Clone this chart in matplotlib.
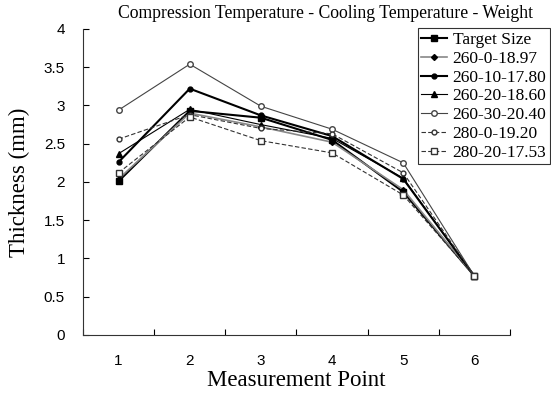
import matplotlib
matplotlib.use("Agg")
import matplotlib.pyplot as plt
import numpy as np

points = [1, 2, 3, 4, 5, 6]
series_names = ["Target Size", "260-0-18.97", "260-10-17.80", "260-20-18.60",
                "260-30-20.40", "280-0-19.20", "280-20-17.53"]
target_size   = [2.01, 2.93, 2.84, 2.55, 1.87, 0.77]
s_260_0_1897  = [2.04, 2.90, 2.72, 2.52, 1.90, 0.77]
s_260_10_1780 = [2.26, 3.22, 2.87, 2.60, 2.04, 0.77]
s_260_20_1860 = [2.37, 2.95, 2.75, 2.57, 2.05, 0.77]
s_260_30_2040 = [2.94, 3.54, 2.99, 2.69, 2.25, 0.77]
s_280_0_1920  = [2.56, 2.88, 2.70, 2.63, 2.12, 0.77]
s_280_20_1753 = [2.12, 2.85, 2.54, 2.38, 1.83, 0.77]
yticks = [0, 0.5, 1, 1.5, 2, 2.5, 3, 3.5, 4]
ytick_labels = ["0", "0.5", "1", "1.5", "2", "2.5", "3", "3.5", "4"]

values = [target_size, s_260_0_1897, s_260_10_1780, s_260_20_1860,
          s_260_30_2040, s_280_0_1920, s_280_20_1753]
styles = [
    dict(color="black", lw=1.5, ls="-", marker="s", ms=4.5, mfc="black"),
    dict(color="#888888", lw=1.2, ls="-", marker="D", ms=3, mfc="black", mec="black"),
    dict(color="black", lw=1.5, ls="-", marker="o", ms=3.5, mfc="black"),
    dict(color="black", lw=0.8, ls="-", marker="^", ms=4.5, mfc="black"),
    dict(color="#444444", lw=0.8, ls="-", marker="o", ms=4, mfc="white", mec="#444444"),
    dict(color="#333333", lw=0.8, ls=(0, (4, 2)), marker="o", ms=3.5, mfc="white", mec="#333333"),
    dict(color="#333333", lw=0.8, ls=(0, (4, 2)), marker="s", ms=4.5, mfc="white", mec="#333333"),
]

fig = plt.figure(figsize=(5.51, 3.95), dpi=100)
ax = fig.add_axes([0.1506, 0.152, 0.775, 0.7746])

for name, vals, st in zip(series_names, values, styles):
    ax.plot(points, vals, label=name, **st)

ax.set_xlim(0.5, 6.5)
ax.set_ylim(0, 4)
ax.set_xticks(points)
ax.set_xticklabels([str(p) for p in points], fontfamily="Liberation Sans", fontsize=11)
ax.set_xticks(np.arange(0.5, 7.0, 1.0), minor=True)
ax.tick_params(axis="x", which="major", length=0, pad=14)
ax.tick_params(axis="x", which="minor", direction="in", length=4, width=0.8)
ax.set_yticks(yticks)
ax.set_yticklabels(ytick_labels, fontfamily="Liberation Sans", fontsize=11)
ax.tick_params(axis="y", direction="in", length=4, width=0.8, pad=13)
for s in ["top", "right"]:
    ax.spines[s].set_visible(False)
for s in ["left", "bottom"]:
    ax.spines[s].set_linewidth(0.8)
    ax.spines[s].set_color("#333333")

ax.set_xlabel("Measurement Point", fontfamily="Liberation Serif", fontsize=16.5, labelpad=1)
ax.set_ylabel("Thickness (mm)", fontfamily="Liberation Serif", fontsize=16.5, labelpad=10)
fig.text(0.59, 0.965, "Compression Temperature - Cooling Temperature - Weight",
         ha="center", va="center", fontfamily="Liberation Serif", fontsize=12.7)

leg = ax.legend(loc="upper right", bbox_to_anchor=(0.998, 0.928), bbox_transform=fig.transFigure,
                prop={"family": "Liberation Serif", "size": 12.5}, frameon=True, fancybox=False,
                edgecolor="black", handlelength=1.5, handletextpad=0.3, labelspacing=0.15,
                borderpad=0.2, borderaxespad=0)
leg.get_frame().set_linewidth(0.8)

fig.savefig("out.png", dpi=100)
